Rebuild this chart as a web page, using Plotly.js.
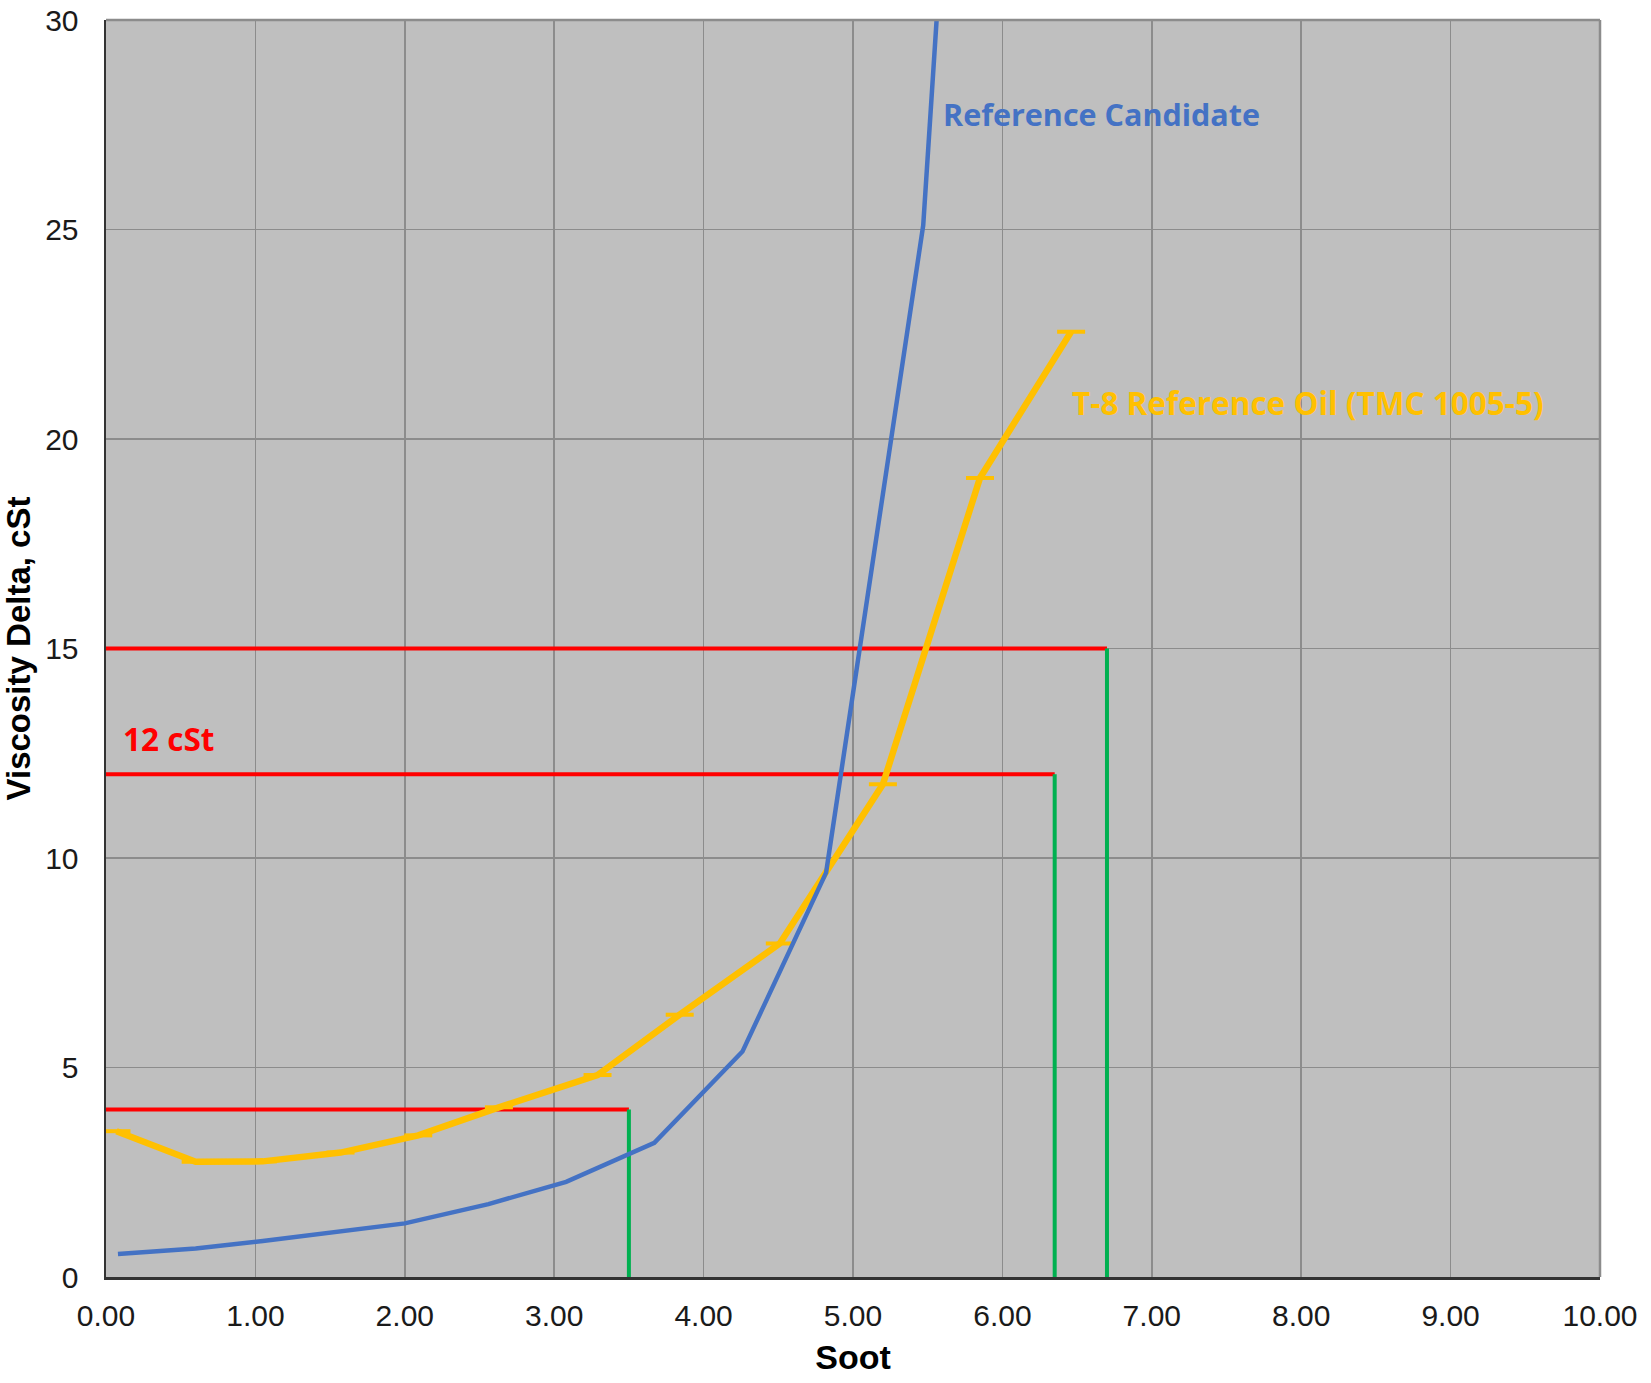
<!DOCTYPE html>
<html>
<head>
<meta charset="utf-8">
<script src="https://cdn.plot.ly/plotly-3.0.1.min.js"></script>
<style>html,body{margin:0;padding:0;background:#fff;}#chart{width:1651px;height:1383px;}</style>
</head>
<body>
<div id="chart"></div>
<script>
// Reference Candidate (blue)
const candSoot = [0.08, 0.60, 1.05, 1.57, 2.00, 2.56, 3.08, 3.67, 4.26, 4.82, 5.47, 5.62];
const candVisc = [0.55, 0.68, 0.86, 1.08, 1.28, 1.74, 2.27, 3.20, 5.38, 9.65, 25.1, 33.3];

// T-8 Reference Oil (TMC 1005-5) (orange)
const refSoot = [0.07, 0.60, 1.05, 1.57, 2.09, 2.63, 3.29, 3.84, 4.51, 5.20, 5.85, 6.46];
const refVisc = [3.48, 2.75, 2.76, 2.97, 3.38, 4.05, 4.82, 6.26, 7.96, 11.76, 19.07, 22.56];

// Limit lines
const limitVisc = [4, 12, 15];
const limitSoot = [3.50, 6.35, 6.70];

const xTickVals = [0,1,2,3,4,5,6,7,8,9,10];
const xTickText = ["0.00","1.00","2.00","3.00","4.00","5.00","6.00","7.00","8.00","9.00","10.00"];
const yTickVals = [0,5,10,15,20,25,30];

const traces = [];
for (let i = 0; i < limitVisc.length; i++) {
  traces.push({x:[0, limitSoot[i]], y:[limitVisc[i], limitVisc[i]], mode:'lines',
    line:{color:'#FF0000', width:4}, hoverinfo:'skip', showlegend:false});
  traces.push({x:[limitSoot[i], limitSoot[i]], y:[0, limitVisc[i]], mode:'lines',
    line:{color:'#00B050', width:4}, hoverinfo:'skip', showlegend:false});
}
traces.push({x:refSoot, y:refVisc, mode:'lines+markers', name:'T-8 Reference Oil (TMC 1005-5)',
  line:{color:'#FFC000', width:6.5},
  marker:{symbol:'line-ew', size:20, color:'#FFC000', line:{color:'#FFC000', width:4}},
  showlegend:false});
traces.push({x:candSoot, y:candVisc, mode:'lines', name:'Reference Candidate',
  line:{color:'#4472C4', width:4.5}, showlegend:false});

const axisFont = {family:'Liberation Sans, Arial, sans-serif', size:30, color:'#1a1a1a'};
const annFont = 'Open Sans, Noto Sans, sans-serif';

const layout = {
  width:1651, height:1383,
  margin:{l:105.5, r:51, t:19.5, b:106},
  paper_bgcolor:'#FFFFFF', plot_bgcolor:'#BFBFBF',
  xaxis:{range:[0,10], tickvals:xTickVals, ticktext:xTickText, showgrid:true,
    gridcolor:'#8C8C8C', gridwidth:1.5, zeroline:false, showline:true, linecolor:'#333333', linewidth:2.5,
    ticks:'', ticklabelstandoff:10, tickfont:axisFont, fixedrange:true,
    title:{text:'<b>Soot</b>', font:{family:'Liberation Sans, Arial, sans-serif', size:34, color:'#000'}, standoff:15}},
  yaxis:{range:[0,30], tickvals:yTickVals, showgrid:true,
    gridcolor:'#8C8C8C', gridwidth:1.5, zeroline:false, showline:true, linecolor:'#333333', linewidth:2.5,
    ticks:'', ticklabelstandoff:19, tickfont:axisFont, fixedrange:true,
    title:{text:'<b>Viscosity Delta, cSt</b>', font:{family:'Liberation Sans, Arial, sans-serif', size:33, color:'#000'}, standoff:12}},
  shapes:[
    {type:'line', xref:'paper', yref:'paper', x0:0, x1:1, y0:1, y1:1, line:{color:'#8C8C8C', width:2.5}},
    {type:'line', xref:'paper', yref:'paper', x0:1, x1:1, y0:0, y1:1, line:{color:'#8C8C8C', width:2.5}}
  ],
  annotations:[
    {x:5.59, y:27.75, xref:'x', yref:'y', xanchor:'left', yanchor:'middle', showarrow:false,
      text:'<b>Reference Candidate</b>', font:{family:annFont, size:30.5, color:'#4472C4'}},
    {x:6.45, y:20.87, xref:'x', yref:'y', xanchor:'left', yanchor:'middle', showarrow:false,
      text:'<b>T-8 Reference Oil (TMC 1005-5)</b>', font:{family:annFont, size:31.5, color:'#FFC000'}},
    {x:0.10, y:12.86, xref:'x', yref:'y', xanchor:'left', yanchor:'middle', showarrow:false,
      text:'<b>12 cSt</b>', font:{family:annFont, size:31.5, color:'#FF0000'}}
  ]
};

Plotly.newPlot('chart', traces, layout, {displayModeBar:false, staticPlot:true});
</script>
</body>
</html>
